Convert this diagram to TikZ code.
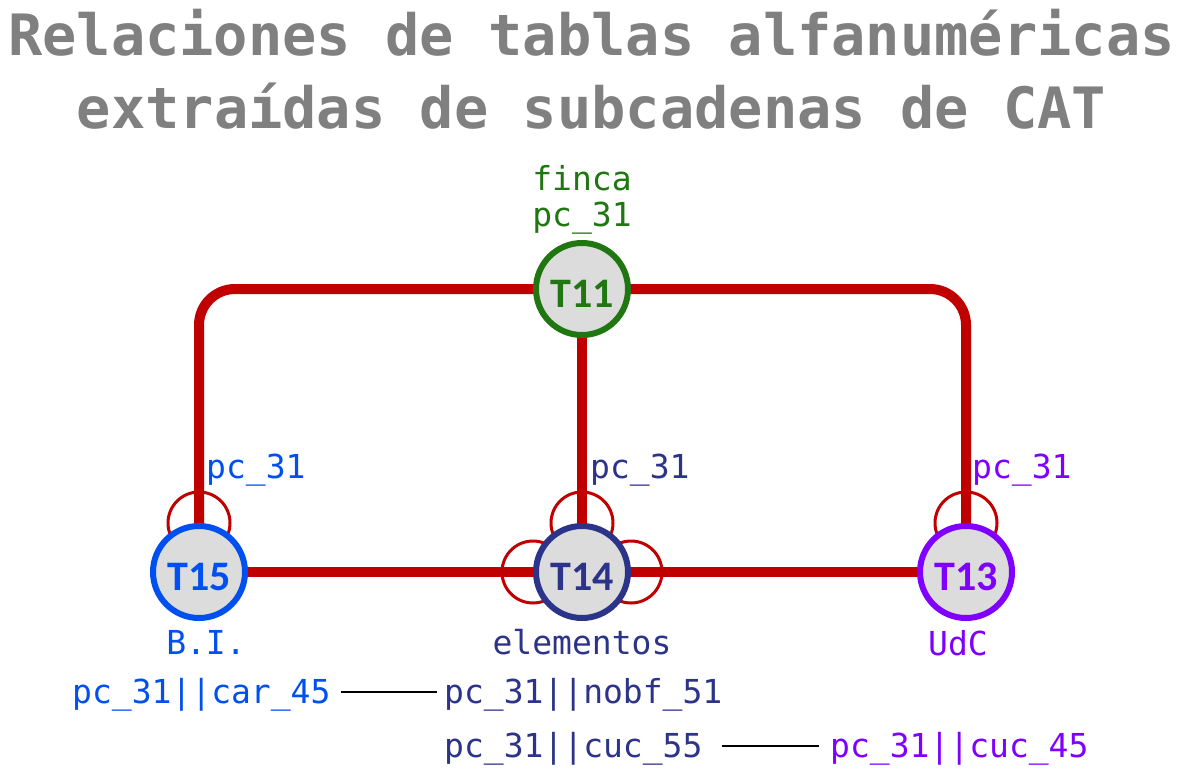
\documentclass[tikz,border=0pt]{standalone}
\usepackage{fontspec}
\newfontfamily\monofont{DejaVu Sans Mono}
\newfontfamily\tnodefont{Carlito}
\usetikzlibrary{backgrounds}
\definecolor{relred}{RGB}{192,0,0}
\definecolor{cgreen}{RGB}{32,118,16}
\definecolor{cblue}{RGB}{0,80,240}
\definecolor{cnavy}{RGB}{44,52,137}
\definecolor{cpurple}{RGB}{127,0,255}
\definecolor{ctitle}{RGB}{128,128,128}
\definecolor{nodegray}{RGB}{220,220,220}
\tikzset{
  tbl/.style={circle, minimum size=92pt, inner sep=0pt, line width=6pt, fill=nodegray,
    font=\tnodefont\bfseries\fontsize{42}{42}\selectfont, text height=36pt, text depth=0pt},
  lbl/.style={font=\monofont\fontsize{33}{36}\selectfont, inner sep=0pt, anchor=base},
  keylbl/.style={font=\monofont\fontsize{33}{36}\selectfont, inner xsep=5pt, inner ysep=0pt,
    text height=22pt, text depth=0pt, anchor=base west},
  titlelbl/.style={font=\monofont\bfseries\fontsize{57}{60}\selectfont, text=ctitle, inner sep=0pt, anchor=base},
  rel/.style={line width=10pt, draw=relred, rounded corners=36pt},
  selfloop/.style={line width=3pt, draw=relred},
  link/.style={line width=2pt, draw=black}
}
\begin{document}
\begin{tikzpicture}[x=1pt,y=-1pt]
\useasboundingbox (0,0) rectangle (1183,771);

% title
\node[titlelbl] (title1) at (591.5,55) {Relaciones de tablas alfanuméricas};
\node[titlelbl] (title2) at (591.5,128) {extraídas de subcadenas de CAT};

% table nodes
\node[tbl, draw=cgreen, text=cgreen] (t11) at (582,289) {T11};
\node[tbl, draw=cblue, text=cblue] (t15) at (199,572) {T15};
\node[tbl, draw=cnavy, text=cnavy] (t14) at (582,572) {T14};
\node[tbl, draw=cpurple, text=cpurple] (t13) at (966,572) {T13};

\begin{pgfonlayer}{background}
  \fill[white] (0,0) rectangle (1183,771);
  \draw[rel] (t15) |- (t11);
  \draw[rel] (t11) -| (t13);
  \draw[rel] (t11) -- (t14);
  \draw[rel] (t15) -- (t14);
  \draw[rel] (t14) -- (t13);
  \draw[selfloop] (t15.north) circle (31);
  \draw[selfloop] (t14.north) circle (31);
  \draw[selfloop] (t14.west) circle (31);
  \draw[selfloop] (t14.east) circle (31);
  \draw[selfloop] (t13.north) circle (31);
\end{pgfonlayer}

% labels
\node[lbl, text=cgreen] (l11a) at (582,190) {finca};
\node[lbl, text=cgreen] (l11b) at (582,226) {pc\_31};
\node[lbl, text=cblue, anchor=base west] (l15p) at (206,478) {pc\_31};
\node[lbl, text=cnavy, anchor=base west] (l14p) at (590,478) {pc\_31};
\node[lbl, text=cpurple, anchor=base west] (l13p) at (972,478) {pc\_31};
\node[lbl, text=cblue] (l15n) at (206,654) {B.I.};
\node[lbl, text=cnavy] (l14n) at (582,654) {elementos};
\node[lbl, text=cpurple] (l13n) at (958,655) {UdC};

% key relations
\node[keylbl, text=cblue] (k1) at (67,703) {pc\_31||car\_45};
\node[keylbl, text=cnavy] (k2) at (439,703) {pc\_31||nobf\_51};
\node[keylbl, text=cnavy] (k3) at (439,757) {pc\_31||cuc\_55};
\node[keylbl, text=cpurple] (k4) at (825,757) {pc\_31||cuc\_45};
\draw[link, shorten <=5pt, shorten >=2pt] (k1.east) -- (k2.west);
\draw[link, shorten <=14pt, shorten >=6pt] (k3.east) -- (k4.west);
\end{tikzpicture}
\end{document}
